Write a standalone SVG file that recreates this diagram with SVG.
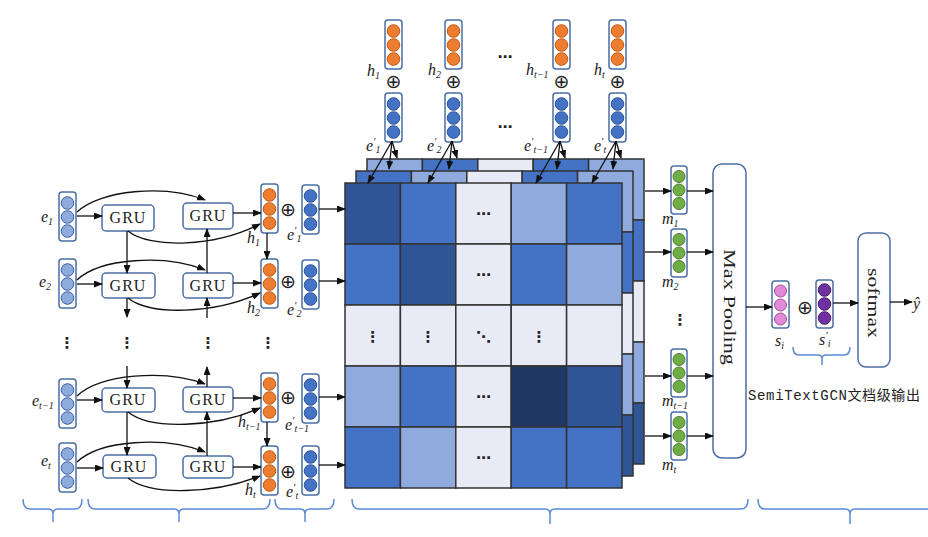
<svg xmlns="http://www.w3.org/2000/svg" xmlns:xlink="http://www.w3.org/1999/xlink" width="928" height="537" viewBox="0 0 928 537">
<style>
.vbox{fill:#fff;stroke:#4a6fa5;stroke-width:1.5}
.cLB{fill:#8faadc;stroke:#3a62a8;stroke-width:1}
.cB{fill:#4472c4;stroke:#2f5597;stroke-width:1}
.cO{fill:#ed7d31;stroke:#c55a11;stroke-width:1}
.cG{fill:#70ad47;stroke:#4f7f30;stroke-width:1}
.cP{fill:#e08ad8;stroke:#a0509a;stroke-width:1}
.cU{fill:#7030a0;stroke:#4b1f6f;stroke-width:1}
.box{fill:#fff;stroke:#4a6fa5;stroke-width:1.5}
.gru{font-family:"Liberation Serif",serif;font-size:16px;fill:#222;text-anchor:middle;letter-spacing:1px}
.lbl{font-family:"Liberation Serif",serif;font-style:italic;font-size:16px;fill:#222}
.sub{font-size:10px}
.sup{font-size:11px}
.op{font-family:"DejaVu Sans",sans-serif;font-size:19px;fill:#222;text-anchor:middle}
.dots{font-family:"DejaVu Sans",sans-serif;font-size:15px;fill:#222;text-anchor:middle;font-weight:bold}
.arr{fill:none;stroke:#111;stroke-width:1.3;marker-end:url(#ah)}
.brace{fill:none;stroke:#5b8bd5;stroke-width:1.5}
.cell{stroke:#333;stroke-width:1.5}
.d{fill:#2f5597}.m{fill:#4472c4}.l{fill:#8faadc}.w{fill:#e8ebf5}.k{fill:#1f3864}
.rot{font-family:"Liberation Serif",serif;font-size:17px;fill:#222;text-anchor:middle}
</style>
<defs>
<marker id="ah" markerUnits="userSpaceOnUse" markerWidth="9" markerHeight="7" refX="8" refY="3.5" orient="auto"><path d="M0,0 L9,3.5 L0,7 z" fill="#111"/></marker>
<g id="vLB"><rect width="17" height="49" rx="3" class="vbox"/><circle cx="8.5" cy="11" r="6.3" class="cLB"/><circle cx="8.5" cy="25" r="6.3" class="cLB"/><circle cx="8.5" cy="39" r="6.3" class="cLB"/></g>
<g id="vB"><rect width="17" height="49" rx="3" class="vbox"/><circle cx="8.5" cy="11" r="6.3" class="cB"/><circle cx="8.5" cy="25" r="6.3" class="cB"/><circle cx="8.5" cy="39" r="6.3" class="cB"/></g>
<g id="vO"><rect width="17" height="49" rx="3" class="vbox"/><circle cx="8.5" cy="11" r="6.3" class="cO"/><circle cx="8.5" cy="25" r="6.3" class="cO"/><circle cx="8.5" cy="39" r="6.3" class="cO"/></g>
<g id="vG"><rect width="16" height="48" rx="3" class="vbox"/><circle cx="8" cy="10.5" r="6" class="cG"/><circle cx="8" cy="24" r="6" class="cG"/><circle cx="8" cy="37.5" r="6" class="cG"/></g>
<g id="vP"><rect width="17" height="47" rx="3" class="vbox"/><circle cx="8.5" cy="10" r="6" class="cP"/><circle cx="8.5" cy="24" r="6" class="cP"/><circle cx="8.5" cy="38" r="6" class="cP"/></g>
<g id="vU"><rect width="17" height="48" rx="3" class="vbox"/><circle cx="8.5" cy="10" r="6.3" class="cU"/><circle cx="8.5" cy="24" r="6.3" class="cU"/><circle cx="8.5" cy="38" r="6.3" class="cU"/></g>
</defs>

<!-- matrix stack -->
<g id="matrix-back" transform="translate(22,-24)">
<rect class="cell l" x="345" y="183" width="55.4" height="61"/><rect class="cell m" x="400.4" y="183" width="55.4" height="61"/><rect class="cell w" x="455.8" y="183" width="55.4" height="61"/><rect class="cell m" x="511.2" y="183" width="55.4" height="61"/><rect class="cell l" x="566.6" y="183" width="55.4" height="61"/>
<rect class="cell m" x="566.6" y="244" width="55.4" height="61"/><rect class="cell w" x="566.6" y="305" width="55.4" height="61"/><rect class="cell l" x="566.6" y="366" width="55.4" height="61"/><rect class="cell d" x="566.6" y="427" width="55.4" height="61"/>
</g>
<g id="matrix-mid" transform="translate(11,-12)">
<rect class="cell m" x="345" y="183" width="55.4" height="61"/><rect class="cell l" x="400.4" y="183" width="55.4" height="61"/><rect class="cell w" x="455.8" y="183" width="55.4" height="61"/><rect class="cell m" x="511.2" y="183" width="55.4" height="61"/><rect class="cell l" x="566.6" y="183" width="55.4" height="61"/>
<rect class="cell m" x="566.6" y="244" width="55.4" height="61"/><rect class="cell w" x="566.6" y="305" width="55.4" height="61"/><rect class="cell l" x="566.6" y="366" width="55.4" height="61"/><rect class="cell d" x="566.6" y="427" width="55.4" height="61"/>
</g>
<g id="matrix-front">
<rect class="cell d" x="345" y="183" width="55.4" height="61"/><rect class="cell m" x="400.4" y="183" width="55.4" height="61"/><rect class="cell w" x="455.8" y="183" width="55.4" height="61"/><rect class="cell l" x="511.2" y="183" width="55.4" height="61"/><rect class="cell m" x="566.6" y="183" width="55.4" height="61"/>
<rect class="cell m" x="345" y="244" width="55.4" height="61"/><rect class="cell d" x="400.4" y="244" width="55.4" height="61"/><rect class="cell w" x="455.8" y="244" width="55.4" height="61"/><rect class="cell m" x="511.2" y="244" width="55.4" height="61"/><rect class="cell l" x="566.6" y="244" width="55.4" height="61"/>
<rect class="cell w" x="345" y="305" width="55.4" height="61"/><rect class="cell w" x="400.4" y="305" width="55.4" height="61"/><rect class="cell w" x="455.8" y="305" width="55.4" height="61"/><rect class="cell w" x="511.2" y="305" width="55.4" height="61"/><rect class="cell w" x="566.6" y="305" width="55.4" height="61"/>
<rect class="cell l" x="345" y="366" width="55.4" height="61"/><rect class="cell m" x="400.4" y="366" width="55.4" height="61"/><rect class="cell w" x="455.8" y="366" width="55.4" height="61"/><rect class="cell k" x="511.2" y="366" width="55.4" height="61"/><rect class="cell d" x="566.6" y="366" width="55.4" height="61"/>
<rect class="cell m" x="345" y="427" width="55.4" height="61"/><rect class="cell l" x="400.4" y="427" width="55.4" height="61"/><rect class="cell w" x="455.8" y="427" width="55.4" height="61"/><rect class="cell m" x="511.2" y="427" width="55.4" height="61"/><rect class="cell m" x="566.6" y="427" width="55.4" height="61"/>
<text class="dots" x="483.5" y="219" font-size="13">⋯</text><text class="dots" x="483.5" y="280" font-size="13">⋯</text><text class="dots" x="483.5" y="402" font-size="13">⋯</text><text class="dots" x="483.5" y="463" font-size="13">⋯</text>
<text class="dots" x="372.7" y="342" font-size="13">⋮</text><text class="dots" x="428.1" y="342" font-size="13">⋮</text><text class="dots" x="483.5" y="342" font-size="13">⋱</text><text class="dots" x="538.9" y="342" font-size="13">⋮</text>
</g>

<!-- left nodes -->
<g id="e1"><use href="#vLB" x="59" y="192"/><text class="lbl" x="41" y="222">e<tspan class="sub" dy="3">1</tspan></text></g>
<g id="e2"><use href="#vLB" x="59" y="259"/><text class="lbl" x="39" y="287">e<tspan class="sub" dy="3">2</tspan></text></g>
<g id="et1"><use href="#vLB" x="59" y="379"/><text class="lbl" x="32" y="406">e<tspan class="sub" dy="3">t−1</tspan></text></g>
<g id="et"><use href="#vLB" x="59" y="443"/><text class="lbl" x="41" y="466">e<tspan class="sub" dy="3">t</tspan></text></g>

<g id="gru-1a"><rect class="box" x="102" y="205" width="52" height="26" rx="4"/><text class="gru" x="128" y="223">GRU</text></g>
<g id="gru-2a"><rect class="box" x="102" y="273" width="53" height="25" rx="4"/><text class="gru" x="128" y="291">GRU</text></g>
<g id="gru-3a"><rect class="box" x="102" y="388" width="53" height="24" rx="4"/><text class="gru" x="128" y="405">GRU</text></g>
<g id="gru-4a"><rect class="box" x="103" y="455" width="53" height="23" rx="4"/><text class="gru" x="129" y="472">GRU</text></g>
<g id="gru-1b"><rect class="box" x="183" y="203" width="50" height="26" rx="4"/><text class="gru" x="208" y="221">GRU</text></g>
<g id="gru-2b"><rect class="box" x="183" y="273" width="50" height="25" rx="4"/><text class="gru" x="208" y="291">GRU</text></g>
<g id="gru-3b"><rect class="box" x="183" y="387" width="50" height="25" rx="4"/><text class="gru" x="208" y="405">GRU</text></g>
<g id="gru-4b"><rect class="box" x="183" y="456" width="50" height="22" rx="4"/><text class="gru" x="208" y="472">GRU</text></g>

<g id="h1"><use href="#vO" x="261" y="184"/><text class="lbl" x="247" y="243">h<tspan class="sub" dy="3">1</tspan></text></g>
<g id="h2"><use href="#vO" x="261" y="259"/><text class="lbl" x="247" y="313">h<tspan class="sub" dy="3">2</tspan></text></g>
<g id="ht1"><use href="#vO" x="261" y="373"/><text class="lbl" x="238" y="427">h<tspan class="sub" dy="3">t−1</tspan></text></g>
<g id="ht"><use href="#vO" x="261" y="446"/><text class="lbl" x="245" y="495">h<tspan class="sub" dy="3">t</tspan></text></g>

<g id="op-left"><text class="op" x="288" y="216">⊕</text><text class="op" x="288" y="288">⊕</text><text class="op" x="288" y="404">⊕</text><text class="op" x="288" y="478">⊕</text></g>

<g id="ep1"><use href="#vB" x="302" y="185"/><text class="lbl" x="287" y="240">e<tspan class="sup" dy="-6">′</tspan><tspan class="sub" dy="8">1</tspan></text></g>
<g id="ep2"><use href="#vB" x="302" y="260"/><text class="lbl" x="287" y="315">e<tspan class="sup" dy="-6">′</tspan><tspan class="sub" dy="8">2</tspan></text></g>
<g id="ept1"><use href="#vB" x="302" y="374"/><text class="lbl" x="285" y="430">e<tspan class="sup" dy="-6">′</tspan><tspan class="sub" dy="8">t−1</tspan></text></g>
<g id="ept"><use href="#vB" x="302" y="446"/><text class="lbl" x="286" y="497">e<tspan class="sup" dy="-6">′</tspan><tspan class="sub" dy="8">t</tspan></text></g>

<g id="vdots"><text class="dots" x="67" y="348">⋮</text><text class="dots" x="127" y="348">⋮</text><text class="dots" x="208" y="348">⋮</text><text class="dots" x="268" y="348">⋮</text></g>

<!-- top nodes -->
<g id="top-1"><use href="#vO" x="385" y="20"/><text class="op" x="393.5" y="88">⊕</text><use href="#vB" x="385" y="93"/><text class="lbl" x="367" y="76">h<tspan class="sub" dy="3">1</tspan></text><text class="lbl" x="366" y="151">e<tspan class="sup" dy="-6">′</tspan><tspan class="sub" dy="8">1</tspan></text></g>
<g id="top-2"><use href="#vO" x="445" y="20"/><text class="op" x="453.5" y="88">⊕</text><use href="#vB" x="445" y="93"/><text class="lbl" x="428" y="75">h<tspan class="sub" dy="3">2</tspan></text><text class="lbl" x="427" y="151">e<tspan class="sup" dy="-6">′</tspan><tspan class="sub" dy="8">2</tspan></text></g>
<g id="top-3"><use href="#vO" x="553" y="20"/><text class="op" x="561.5" y="88">⊕</text><use href="#vB" x="553" y="93"/><text class="lbl" x="526" y="75">h<tspan class="sub" dy="3">t−1</tspan></text><text class="lbl" x="524" y="151">e<tspan class="sup" dy="-6">′</tspan><tspan class="sub" dy="8">t−1</tspan></text></g>
<g id="top-4"><use href="#vO" x="609" y="20"/><text class="op" x="617.5" y="88">⊕</text><use href="#vB" x="609" y="93"/><text class="lbl" x="594" y="75">h<tspan class="sub" dy="3">t</tspan></text><text class="lbl" x="594" y="151">e<tspan class="sup" dy="-6">′</tspan><tspan class="sub" dy="8">t</tspan></text></g>
<g id="top-dots"><text class="dots" x="505" y="62" font-size="12">⋯</text><text class="dots" x="505" y="132" font-size="12">⋯</text></g>

<!-- right nodes -->
<g id="m1"><use href="#vG" x="671" y="166"/><text class="lbl" x="662" y="224">m<tspan class="sub" dy="3">1</tspan></text></g>
<g id="m2"><use href="#vG" x="671" y="229"/><text class="lbl" x="662" y="287">m<tspan class="sub" dy="3">2</tspan></text></g>
<g id="mt1"><use href="#vG" x="671" y="349"/><text class="lbl" x="662" y="406">m<tspan class="sub" dy="3">t−1</tspan></text></g>
<g id="mt"><use href="#vG" x="671" y="412"/><text class="lbl" x="662" y="470">m<tspan class="sub" dy="3">t</tspan></text></g>
<text class="dots" x="680" y="325">⋮</text>

<g id="maxpool"><rect class="box" x="713" y="164" width="33" height="294" rx="9"/><text class="rot" transform="translate(724,307) rotate(90)" textLength="116" lengthAdjust="spacingAndGlyphs">Max Pooling</text></g>
<g id="si"><use href="#vP" x="772" y="281"/><text class="lbl" x="775" y="346">s<tspan class="sub" dy="3">i</tspan></text></g>
<text class="op" x="805" y="314">⊕</text>
<g id="spi"><use href="#vU" x="816" y="280"/><text class="lbl" x="819" y="345">s<tspan class="sup" dy="-6">′</tspan><tspan class="sub" dy="8">i</tspan></text></g>
<g id="softmax"><rect class="box" x="858" y="233" width="32" height="134" rx="8"/><text class="rot" transform="translate(868,303) rotate(90)" textLength="70" lengthAdjust="spacingAndGlyphs">softmax</text></g>
<text class="lbl" x="913" y="309" font-size="17">ŷ</text>
<text x="748" y="400" font-family="'Liberation Mono','Noto Sans CJK SC',monospace" font-size="14" fill="#222" textLength="172">SemiTextGCN文档级输出</text>

<!-- connectors -->
<g id="connectors">
<path class="arr" d="M77,216 L102,216"/><path class="arr" d="M77,284 L102,284"/><path class="arr" d="M77,400 L102,400"/><path class="arr" d="M77,468 L103,468"/>
<path class="arr" d="M233,213 L261,213"/><path class="arr" d="M233,283 L261,283"/><path class="arr" d="M233,398 L261,398"/><path class="arr" d="M233,467 L261,467"/>
<path class="arr" d="M77,212 C100,190 165,184 205,200"/><path class="arr" d="M77,280 C100,258 165,254 205,270"/><path class="arr" d="M77,396 C100,374 165,369 205,384"/><path class="arr" d="M77,462 C100,440 165,436 205,452"/>
<path class="arr" d="M128,231 C150,249 215,247 260,224"/><path class="arr" d="M128,298 C150,316 215,314 260,293"/><path class="arr" d="M128,412 C150,430 215,428 260,408"/><path class="arr" d="M128,478 C150,496 215,494 260,476"/>
<path class="arr" d="M127,231 L127,273"/><path class="arr" d="M127,298 L127,317"/><path class="arr" d="M127,366 L127,388"/><path class="arr" d="M127,412 L127,455"/>
<path class="arr" d="M207,273 L207,229"/><path class="arr" d="M207,318 L207,298"/><path class="arr" d="M207,387 L207,367"/><path class="arr" d="M207,456 L207,412"/>
<path class="arr" d="M267,233 L267,259"/><path class="arr" d="M267,422 L267,446"/>
<path class="arr" d="M319,209 L345,209"/><path class="arr" d="M319,281 L345,281"/><path class="arr" d="M319,397 L345,397"/><path class="arr" d="M319,465 L345,465"/>
<path class="arr" d="M392,141 L397,158"/><path class="arr" d="M392,141 L389,169"/><path class="arr" d="M392,141 L368,183"/>
<path class="arr" d="M452,141 L457,158"/><path class="arr" d="M452,141 L449,169"/><path class="arr" d="M452,141 L428,183"/>
<path class="arr" d="M560,141 L565,158"/><path class="arr" d="M560,141 L557,169"/><path class="arr" d="M560,141 L536,183"/>
<path class="arr" d="M616,141 L621,158"/><path class="arr" d="M616,141 L613,169"/><path class="arr" d="M616,141 L592,183"/>
<path class="arr" d="M645,191 L671,191"/><path class="arr" d="M645,252 L671,252"/><path class="arr" d="M645,376 L671,376"/><path class="arr" d="M645,436 L671,436"/>
<path class="arr" d="M687,191 L713,191"/><path class="arr" d="M687,252 L713,252"/><path class="arr" d="M687,376 L713,376"/><path class="arr" d="M687,436 L713,436"/>
<path class="arr" d="M746,307 L772,307"/>
<path class="arr" d="M833,303 L858,303"/>
<path class="arr" d="M890,302 L912,302"/>
</g>

<!-- braces -->
<g id="braces">
<path class="brace" d="M23,499 Q23,509 30,509 L48,509 Q53,509 53,514 Q53,509 58,509 L75,509 Q82,509 82,499 M53,514 L53,522"/>
<path class="brace" d="M88,499 Q88,509 95,509 L174,509 Q179,509 179,514 Q179,509 184,509 L263,509 Q270,509 270,499 M179,514 L179,522"/>
<path class="brace" d="M275,499 Q275,509 282,509 L300,509 Q305,509 305,514 Q305,509 310,509 L327,509 Q334,509 334,499 M305,514 L305,522"/>
<path class="brace" d="M352,499 Q352,509 359,509 L545,509 Q550,509 550,514 Q550,509 555,509 L741,509 Q748,509 748,499 M550,514 L550,524"/>
<path class="brace" d="M758,499 Q758,509 765,509 L845,509 Q850,509 850,514 Q850,509 855,509 L928,509 M850,514 L850,524"/>
<path class="brace" d="M793,347 Q793,355 799,355 L818,355 Q822,355 822,359 Q822,355 826,355 L844,355 Q850,355 850,347 M822,359 L822,365"/>
</g>
</svg>
